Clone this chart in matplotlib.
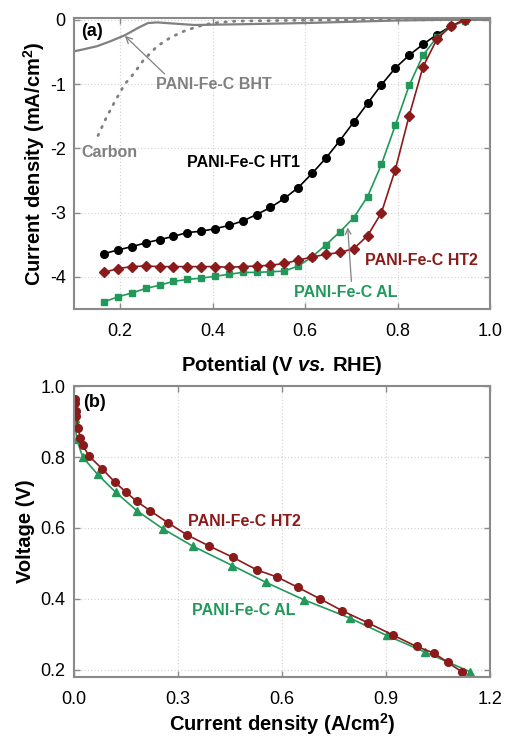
import matplotlib
matplotlib.use("Agg")
import matplotlib.pyplot as plt
import numpy as np

plt.rcParams['font.family'] = ['Liberation Sans', 'DejaVu Sans']
plt.rcParams['mathtext.fontset'] = 'custom'
plt.rcParams['mathtext.rm'] = 'Liberation Sans'
plt.rcParams['mathtext.bf'] = 'Liberation Sans:bold'
plt.rcParams['mathtext.bfit'] = 'Liberation Sans:italic:bold'
plt.rcParams['mathtext.it'] = 'Liberation Sans:italic'

# ---------------- Panel (a) data ----------------
potential = [0.165, 0.195, 0.225, 0.255, 0.285, 0.315, 0.345, 0.375, 0.405,
             0.435, 0.465, 0.495, 0.525, 0.555, 0.585, 0.615, 0.645, 0.675,
             0.705, 0.735, 0.765, 0.795, 0.825, 0.855, 0.885, 0.915, 0.945]
ht1 = [-3.64, -3.58, -3.53, -3.47, -3.42, -3.37, -3.31, -3.29, -3.25,
       -3.20, -3.13, -3.03, -2.92, -2.78, -2.61, -2.39, -2.15, -1.88,
       -1.59, -1.30, -1.01, -0.75, -0.55, -0.38, -0.23, -0.10, 0.0]
ht2 = [-3.93, -3.87, -3.84, -3.83, -3.84, -3.84, -3.84, -3.84, -3.84,
       -3.85, -3.84, -3.83, -3.82, -3.79, -3.74, -3.69, -3.65, -3.62,
       -3.56, -3.36, -3.00, -2.33, -1.49, -0.73, -0.30, -0.10, 0.0]
al = [-4.39, -4.31, -4.25, -4.18, -4.13, -4.07, -4.04, -4.02, -3.99,
      -3.96, -3.93, -3.93, -3.92, -3.91, -3.83, -3.69, -3.50, -3.30,
      -3.08, -2.75, -2.25, -1.64, -1.02, -0.55, -0.27, -0.10, -0.02]

bht_x = [0.10, 0.12, 0.15, 0.18, 0.21, 0.24, 0.26, 0.28, 0.32, 0.36, 0.45,
         0.60, 0.70, 0.75, 0.80, 0.90, 1.00]
bht_y = [-0.49, -0.46, -0.41, -0.33, -0.24, -0.12, -0.05, -0.04, -0.06,
         -0.08, -0.07, -0.05, -0.03, -0.02, -0.01, 0.0, 0.0]

carbon_x = [0.152, 0.17, 0.19, 0.21, 0.23, 0.25, 0.28, 0.31, 0.34, 0.37,
            0.40, 0.45, 0.55, 0.70, 0.85, 1.0]
carbon_y = [-1.80, -1.52, -1.25, -1.00, -0.83, -0.63, -0.41, -0.27, -0.17,
            -0.10, -0.05, -0.02, -0.01, 0.0, 0.0, 0.0]

# ---------------- Panel (b) data ----------------
ht2_j = [0.004, 0.004, 0.005, 0.006, 0.012, 0.018, 0.025, 0.044, 0.081,
         0.117, 0.150, 0.181, 0.219, 0.272, 0.325, 0.388, 0.459, 0.527,
         0.585, 0.645, 0.710, 0.773, 0.847, 0.920, 0.988, 1.039, 1.078, 1.118]
ht2_v = [0.964, 0.953, 0.930, 0.915, 0.883, 0.853, 0.833, 0.802, 0.767,
         0.730, 0.701, 0.675, 0.649, 0.614, 0.581, 0.550, 0.517, 0.482,
         0.462, 0.433, 0.400, 0.367, 0.333, 0.298, 0.266, 0.247, 0.221, 0.195]
al_j = [0.002, 0.003, 0.008, 0.025, 0.068, 0.120, 0.181, 0.256, 0.342,
        0.457, 0.553, 0.662, 0.796, 0.902, 1.013, 1.142]
al_v = [0.911, 0.901, 0.850, 0.800, 0.751, 0.701, 0.649, 0.598, 0.549,
        0.494, 0.447, 0.398, 0.346, 0.297, 0.250, 0.195]

RED = '#8B1A1A'
GREEN = '#22995A'
GREY = '#808080'
SPINE = '#8a8a8a'

fig = plt.figure(figsize=(5.05, 7.37), dpi=100)
ax1 = fig.add_axes([0.1465, 0.5807, 0.824, 0.395])
ax2 = fig.add_axes([0.1465, 0.0814, 0.824, 0.3948])


def style(ax):
    for s in ax.spines.values():
        s.set_color(SPINE)
        s.set_linewidth(1.5)
    ax.tick_params(direction='in', top=True, right=True, length=4,
                   width=1, color=SPINE, labelsize=13)
    ax.tick_params(axis='x', pad=10)
    ax.tick_params(axis='y', pad=6)
    ax.grid(True, linestyle=(0, (1, 2)), color='#d0d0d0', linewidth=0.8)
    ax.set_axisbelow(True)


# ---- Panel (a) ----
style(ax1)
ax1.plot(bht_x, bht_y, color=GREY, lw=1.6)
ax1.plot(carbon_x, carbon_y, color=GREY, lw=2.0, linestyle=(0, (0.5, 2.6)),
         dash_capstyle='round')
ax1.plot(potential, ht1, color='black', lw=1.2, marker='o', ms=5.5,
         mfc='black', mec='black')
ax1.plot(potential, al, color=GREEN, lw=1.2, marker='s', ms=5.0,
         mfc=GREEN, mec=GREEN)
ax1.plot(potential, ht2, color=RED, lw=1.2, marker='D', ms=5.0,
         mfc=RED, mec=RED)
ax1.set_xlim(0.1, 1.0)
ax1.set_ylim(-4.5, 0.03)
ax1.set_xticks([0.2, 0.4, 0.6, 0.8, 1.0])
ax1.set_xticklabels(['0.2', '0.4', '0.6', '0.8', '1.0'])
ax1.set_yticks([0, -1, -2, -3, -4])
ax1.set_yticklabels(['0', '-1', '-2', '-3', '-4'])
ax1.set_xlabel(r'$\mathbf{Potential\ (V\ }\mathbfit{vs.}\:\mathbf{RHE)}$',
               fontsize=14.5, labelpad=10)
ax1.set_ylabel(r'Current density (mA/cm$^\mathbf{2}$)', fontsize=14.5,
               fontweight='bold', labelpad=2)

ax1.text(0.115, -0.18, '(a)', fontsize=13, fontweight='bold', va='center')
ax1.annotate('PANI-Fe-C BHT', xy=(0.21, -0.25), xytext=(0.277, -1.0),
             fontsize=11.5, fontweight='bold', color=GREY, va='center',
             ha='left',
             arrowprops=dict(arrowstyle='->', color=GREY, lw=0.9,
                             shrinkA=0, shrinkB=0,
                             relpos=(0.1, 1.0)))
ax1.text(0.117, -2.06, 'Carbon', fontsize=11.5, fontweight='bold',
         color=GREY, va='center')
ax1.text(0.344, -2.22, 'PANI-Fe-C HT1', fontsize=11.5, fontweight='bold',
         color='black', va='center')
ax1.text(0.729, -3.74, 'PANI-Fe-C HT2', fontsize=11.5, fontweight='bold',
         color=RED, va='center')
ax1.text(0.576, -4.25, 'PANI-Fe-C AL', fontsize=11.5, fontweight='bold',
         color=GREEN, va='center')
ax1.annotate('', xy=(0.692, -3.23), xytext=(0.700, -4.07),
             arrowprops=dict(arrowstyle='->', color=GREY, lw=0.9,
                             shrinkA=0, shrinkB=0))

# ---- Panel (b) ----
style(ax2)
ax2.plot(al_j, al_v, color=GREEN, lw=1.2, marker='^', ms=5.5,
         mfc=GREEN, mec=GREEN)
ax2.plot(ht2_j, ht2_v, color=RED, lw=1.2, marker='o', ms=5.5,
         mfc=RED, mec=RED)
ax2.set_xlim(0.0, 1.2)
ax2.set_ylim(0.18, 1.0)
ax2.set_xticks([0.0, 0.3, 0.6, 0.9, 1.2])
ax2.set_xticklabels(['0.0', '0.3', '0.6', '0.9', '1.2'])
ax2.set_yticks([0.2, 0.4, 0.6, 0.8, 1.0])
ax2.set_yticklabels(['0.2', '0.4', '0.6', '0.8', '1.0'])
ax2.set_xlabel(r'Current density (A/cm$^\mathbf{2}$)', fontsize=14.5,
               fontweight='bold', labelpad=2)
ax2.set_ylabel('Voltage (V)', fontsize=14.5, fontweight='bold', labelpad=4)

ax2.text(0.026, 0.954, '(b)', fontsize=13, fontweight='bold', va='center')
ax2.text(0.329, 0.619, 'PANI-Fe-C HT2', fontsize=11.5, fontweight='bold',
         color=RED, va='center')
ax2.text(0.340, 0.367, 'PANI-Fe-C AL', fontsize=11.5, fontweight='bold',
         color=GREEN, va='center')

fig.savefig('out.png', dpi=100)
